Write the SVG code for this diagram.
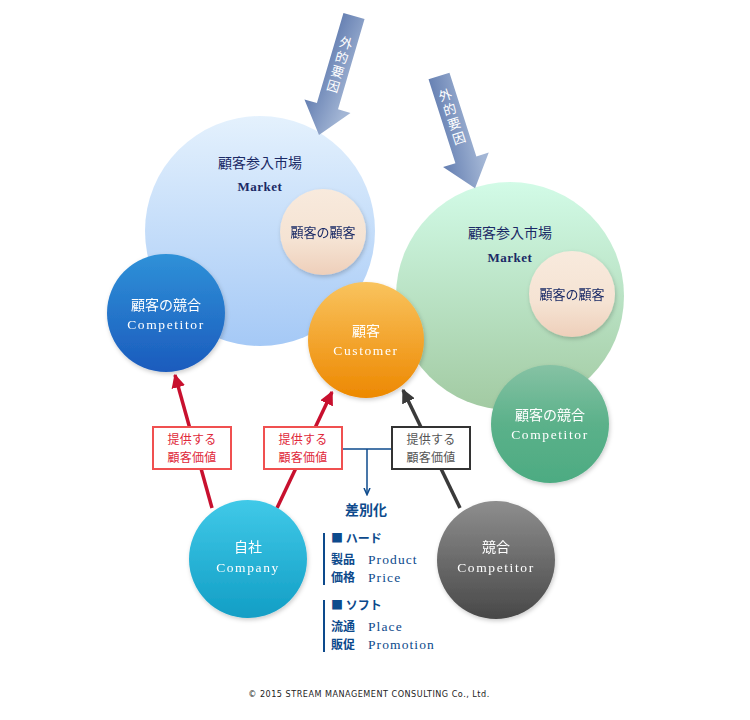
<svg xmlns="http://www.w3.org/2000/svg" width="750" height="720" viewBox="0 0 750 720">
<defs>
<linearGradient id="gMktL" x1="0" y1="0" x2="0" y2="1"><stop offset="0" stop-color="#e4f1fd"/><stop offset="1" stop-color="#a5c9f6"/></linearGradient>
<linearGradient id="gMktR" x1="0" y1="0" x2="0" y2="1"><stop offset="0" stop-color="#d2fbe7"/><stop offset="1" stop-color="#a2caa2"/></linearGradient>
<linearGradient id="gSmall" x1="0" y1="0" x2="0" y2="1"><stop offset="0" stop-color="#f8eadd"/><stop offset="0.6" stop-color="#f5e3d3"/><stop offset="1" stop-color="#eecfba"/></linearGradient>
<linearGradient id="gCompL" x1="0" y1="0" x2="0" y2="1"><stop offset="0" stop-color="#2f91d8"/><stop offset="1" stop-color="#1b5bbd"/></linearGradient>
<linearGradient id="gCust" x1="0" y1="0" x2="0" y2="1"><stop offset="0" stop-color="#f9c35e"/><stop offset="1" stop-color="#ed8800"/></linearGradient>
<linearGradient id="gCompR" x1="0" y1="0" x2="0" y2="1"><stop offset="0" stop-color="#86c2a4"/><stop offset="0.5" stop-color="#5bb18a"/><stop offset="1" stop-color="#4dab82"/></linearGradient>
<linearGradient id="gComp" x1="0" y1="0" x2="0" y2="1"><stop offset="0" stop-color="#40c9e8"/><stop offset="1" stop-color="#129ec5"/></linearGradient>
<linearGradient id="gGray" x1="0" y1="0" x2="0" y2="1"><stop offset="0" stop-color="#8e8e8e"/><stop offset="1" stop-color="#484848"/></linearGradient>
<linearGradient id="gArrow" x1="0" y1="0" x2="1" y2="0.3"><stop offset="0" stop-color="#5470a8"/><stop offset="1" stop-color="#a3b6d5"/></linearGradient>
<filter id="sh" x="-20%" y="-20%" width="140%" height="140%"><feDropShadow dx="1" dy="2" stdDeviation="2" flood-color="#000" flood-opacity="0.2"/></filter>
<marker id="mRed" viewBox="0 0 10 10" refX="9" refY="5" markerWidth="4" markerHeight="4" orient="auto"><path d="M0,0 L10,5 L0,10 Z" fill="#c8102e"/></marker>
<marker id="mDark" viewBox="0 0 10 10" refX="9" refY="5" markerWidth="4" markerHeight="4" orient="auto"><path d="M0,0 L10,5 L0,10 Z" fill="#3a3a3a"/></marker>
<marker id="mBlue" viewBox="0 0 10 10" refX="8" refY="5" markerWidth="5" markerHeight="5" orient="auto"><path d="M0,1 L9,5 L0,9" fill="none" stroke="#0d4a8c" stroke-width="2"/></marker>
<style>
.jp{font-family:"Noto Sans CJK JP","Noto Sans",sans-serif;}
.en{font-family:"Liberation Serif","DejaVu Serif",serif;}
.wt{fill:#fff;text-anchor:middle;}
.nv{fill:#1a2a66;text-anchor:middle;}
.bl{fill:#0d4a8c;font-weight:bold;}
.ar{fill:#fff;font-size:13px;text-anchor:middle;}
.ce{font-size:13.5px;letter-spacing:1.6px;}
.li{font-size:13.5px;fill:#0d4a8c;letter-spacing:1.1px;}
.bx{font-size:12px;text-anchor:middle;letter-spacing:0.3px;}
</style>
</defs>
<rect width="750" height="720" fill="#fff"/>

<g id="market-left">
<circle cx="260" cy="231" r="115" fill="url(#gMktL)"/>
<text x="260" y="168" class="jp nv" font-size="14">顧客参入市場</text>
<text x="260" y="191" class="en nv" font-size="13" font-weight="bold" letter-spacing="0.5">Market</text>
</g>
<g id="cc-left" filter="url(#sh)">
<circle cx="323" cy="232" r="43" fill="url(#gSmall)"/>
<text x="323" y="237" class="jp nv" font-size="13">顧客の顧客</text>
</g>

<g id="market-right">
<circle cx="510" cy="296" r="114" fill="url(#gMktR)"/>
<text x="510" y="238" class="jp nv" font-size="14">顧客参入市場</text>
<text x="510" y="262" class="en nv" font-size="13" font-weight="bold" letter-spacing="0.5">Market</text>
</g>
<g id="cc-right" filter="url(#sh)">
<circle cx="572" cy="294" r="43" fill="url(#gSmall)"/>
<text x="572" y="299" class="jp nv" font-size="13">顧客の顧客</text>
</g>

<g id="competitor-left" filter="url(#sh)">
<circle cx="166" cy="313" r="59" fill="url(#gCompL)"/>
<text x="166" y="310" class="jp wt" font-size="14">顧客の競合</text>
<text x="166" y="329" class="en wt ce">Competitor</text>
</g>

<g id="competitor-right" filter="url(#sh)">
<circle cx="550" cy="424" r="59" fill="url(#gCompR)"/>
<text x="550" y="420" class="jp wt" font-size="14">顧客の競合</text>
<text x="550" y="439" class="en wt ce">Competitor</text>
</g>

<g id="customer" filter="url(#sh)">
<circle cx="366" cy="340" r="58" fill="url(#gCust)"/>
<text x="366" y="336" class="jp wt" font-size="14">顧客</text>
<text x="366" y="355" class="en wt ce">Customer</text>
</g>

<g id="ext-arrow-1" transform="translate(354,16) rotate(16.4)">
<path d="M-11,0 L11,0 L11,94 L24,94 L0,124 L-24,94 L-11,94 Z" fill="url(#gArrow)"/>
<text x="0" y="33" class="jp ar">外</text>
<text x="0" y="48" class="jp ar">的</text>
<text x="0" y="63" class="jp ar">要</text>
<text x="0" y="78" class="jp ar">因</text>
</g>
<g id="ext-arrow-2" transform="translate(439,76) rotate(-17.8)">
<path d="M-11,0 L11,0 L11,88 L24,88 L0,118 L-24,88 L-11,88 Z" fill="url(#gArrow)"/>
<text x="0" y="25" class="jp ar">外</text>
<text x="0" y="40" class="jp ar">的</text>
<text x="0" y="55" class="jp ar">要</text>
<text x="0" y="70" class="jp ar">因</text>
</g>

<g id="connectors">
<line x1="212" y1="508" x2="175" y2="375" stroke="#c8102e" stroke-width="3.5" marker-end="url(#mRed)"/>
<line x1="277" y1="508" x2="332" y2="392" stroke="#c8102e" stroke-width="3.5" marker-end="url(#mRed)"/>
<line x1="460" y1="508" x2="403" y2="390" stroke="#3a3a3a" stroke-width="3.5" marker-end="url(#mDark)"/>
<line x1="342" y1="449" x2="392" y2="449" stroke="#0d4a8c" stroke-width="1.5"/>
<line x1="367" y1="449" x2="367" y2="494" stroke="#0d4a8c" stroke-width="1.5" marker-end="url(#mBlue)"/>
</g>

<g id="value-1">
<rect x="153" y="427" width="78" height="42" fill="#fff" stroke="#f05050" stroke-width="2"/>
<text x="192" y="444" class="jp bx" fill="#e0283a">提供する</text>
<text x="192" y="462" class="jp bx" fill="#e0283a">顧客価値</text>
</g>
<g id="value-2">
<rect x="264" y="427" width="78" height="42" fill="#fff" stroke="#f05050" stroke-width="2"/>
<text x="303" y="444" class="jp bx" fill="#e0283a">提供する</text>
<text x="303" y="462" class="jp bx" fill="#e0283a">顧客価値</text>
</g>
<g id="value-3">
<rect x="392" y="427" width="78" height="42" fill="#fff" stroke="#333" stroke-width="2"/>
<text x="431" y="444" class="jp bx" fill="#555">提供する</text>
<text x="431" y="462" class="jp bx" fill="#555">顧客価値</text>
</g>

<g id="company" filter="url(#sh)">
<circle cx="248" cy="559" r="59" fill="url(#gComp)"/>
<text x="248" y="552" class="jp wt" font-size="14">自社</text>
<text x="248" y="572" class="en wt ce" letter-spacing="2">Company</text>
</g>
<g id="competitor" filter="url(#sh)">
<circle cx="496" cy="560" r="59" fill="url(#gGray)"/>
<text x="496" y="552" class="jp wt" font-size="14">競合</text>
<text x="496" y="572" class="en wt ce">Competitor</text>
</g>

<g id="differentiation">
<text x="366" y="515" class="jp bl" font-size="14" text-anchor="middle">差別化</text>
<rect x="323" y="533" width="2" height="52" fill="#0d4a8c"/>
<rect x="323" y="600" width="2" height="52" fill="#0d4a8c"/>
<text x="331" y="543" class="jp bl" font-size="12">■ ハード</text>
<text x="331" y="564" class="jp bl" font-size="12">製品</text>
<text x="368" y="564" class="en li">Product</text>
<text x="331" y="582" class="jp bl" font-size="12">価格</text>
<text x="368" y="582" class="en li">Price</text>
<text x="331" y="610" class="jp bl" font-size="12">■ ソフト</text>
<text x="331" y="631" class="jp bl" font-size="12">流通</text>
<text x="368" y="631" class="en li">Place</text>
<text x="331" y="649" class="jp bl" font-size="12">販促</text>
<text x="368" y="649" class="en li">Promotion</text>
</g>

<text x="369" y="697" font-family="DejaVu Sans Condensed, DejaVu Sans, sans-serif" font-size="9" fill="#222" text-anchor="middle" letter-spacing="0.5">© 2015 STREAM MANAGEMENT CONSULTING Co., Ltd.</text>
</svg>
